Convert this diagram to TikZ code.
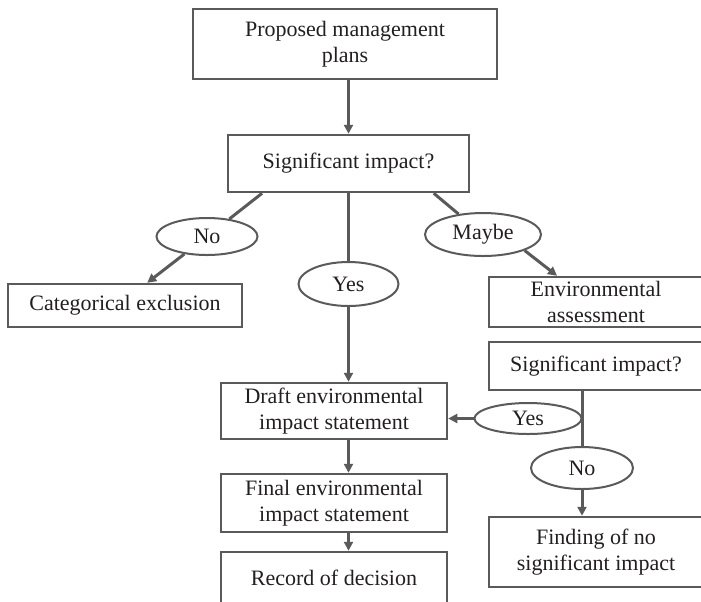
\documentclass[tikz,border=0pt]{standalone}
\usepackage{fontspec}
\setmainfont{Liberation Serif}
\usepackage{tikz}
\usetikzlibrary{shapes.geometric, arrows.meta, calc}
\definecolor{linegray}{HTML}{5A5A5A}
\definecolor{textgray}{HTML}{231F20}

\begin{document}
\begin{tikzpicture}[x=0.5pt, y=-0.5pt,
	every node/.style={text=textgray, font=\fontsize{11}{13}\selectfont, align=center, inner sep=0pt},
	box/.style={draw=linegray, line width=1.25pt, rectangle},
	answer/.style={draw=linegray, line width=1pt, ellipse},
	link/.style={draw=linegray, line width=1.5pt},
	arrow/.style={link, -{Triangle[length=4.5pt, width=4.5pt]}}]
\useasboundingbox (0,0) rectangle (701,601);
\node[box, minimum width=152pt, minimum height=35pt] (plans) at (345,44) {Proposed management\\plans};
\node[box, minimum width=120.5pt, minimum height=28.5pt] (sig) at (348.5,163.5) {Significant impact?};
\node[answer, minimum width=50.5pt, minimum height=18.5pt] (no) at (207,236.5) {No};
\node[box, minimum width=117pt, minimum height=21.5pt] (catex) at (125,305.5) {Categorical exclusion};
\node[answer, minimum width=50pt, minimum height=22pt] (yes) at (348.5,284) {Yes};
\node[answer, minimum width=58pt, minimum height=21.5pt] (maybe) at (483,234.5) {Maybe};
\node[box, minimum width=107pt, minimum height=25pt] (ea) at (596,302) {Environmental\\assessment};
\node[box, minimum width=107pt, minimum height=24pt] (sig2) at (596,366) {Significant impact?};
\node[answer, minimum width=53.5pt, minimum height=15.5pt] (yes2) at (528,418.5) {Yes};
\node[answer, minimum width=51pt, minimum height=21pt] (no2) at (582,468) {No};
\node[box, minimum width=107pt, minimum height=35pt] (fonsi) at (596,552) {Finding of no\\significant impact};
\node[box, minimum width=113pt, minimum height=28pt] (deis) at (334,411) {Draft environmental\\impact statement};
\node[box, minimum width=113pt, minimum height=29pt] (feis) at (334,503) {Final environmental\\impact statement};
\node[box, minimum width=113pt, minimum height=25.5pt] (rod) at (334,577.5) {Record of decision};

\draw[arrow] (sig.north |- plans.south) -- (sig.north);
\draw[link] ($(sig.south west)!0.145!(sig.south east)$) -- (no);
\draw[arrow] (no) -- ($(catex.north west)!0.594!(catex.north east)$);
\draw[link] (sig) -- (yes);
\draw[arrow] (yes) -- (yes |- deis.north);
\draw[link] ($(sig.south west)!0.85!(sig.south east)$) -- (maybe);
\draw[arrow] (maybe.-21) -- ($(ea.north west)!0.32!(ea.north east)$);
\draw[link] (sig2.south -| no2) -- (no2);
\draw[arrow] (yes2) -- (yes2 -| deis.east);
\draw[arrow] (no2) -- (no2 |- fonsi.north);
\draw[arrow] (deis.south -| yes) -- (feis.north -| yes);
\draw[arrow] (feis.south -| yes) -- (rod.north -| yes);
\end{tikzpicture}
\end{document}
